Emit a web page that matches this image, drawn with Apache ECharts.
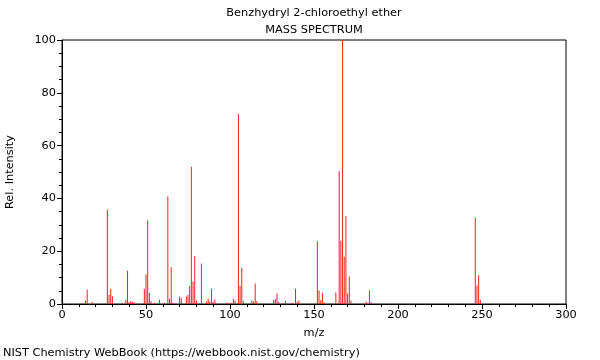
<!DOCTYPE html>
<html><head><meta charset="utf-8">
<script src="https://cdn.jsdelivr.net/npm/echarts@6/dist/echarts.min.js"></script>
<style>html,body{margin:0;padding:0;background:#fff}#c{width:600px;height:360px}</style>
</head><body><div id="c"></div>
<script>
const titleText = "Benzhydryl 2-chloroethyl ether";
const subTitle = "MASS SPECTRUM";
const footer = "NIST Chemistry WebBook (https://webbook.nist.gov/chemistry)";
const mz = [14,15,18,27,28,29,30,36,38,39,40,41,42,43,49,50,51,52,53,55,58,61,63,64,65,66,70,71,74,75,76,77,78,79,80,83,86,87,88,89,90,91,98,99,101,102,103,105,106,107,108,113,114,115,116,126,127,128,129,133,137,139,140,141,152,153,154,155,156,163,165,166,167,168,169,170,171,172,181,182,183,184,246,247,248,249];
const intensity = [1.3,5.5,0.8,35.8,3.5,5.8,2.9,0.4,1.6,12.6,0.8,1,0.8,0.6,5.8,11.2,31.6,4.3,1,0.5,1.6,0.5,40.7,2,13.9,0.5,2.8,2.3,2.8,3.5,6.8,52,8.5,18.2,1.3,15.3,0.9,2,0.9,5.8,0.8,1.6,0.5,0.5,0.5,2,1.3,72,6.9,13.6,1,1.3,0.9,7.8,1,1.5,1.9,4,0.8,1.1,0.5,5.8,0.8,1.3,23.8,5.1,1.4,4.3,0.6,4.4,50.3,24,100,17.9,33.3,4,10.4,1.3,0.9,0.4,5.2,0.7,32.8,7,10.9,1.6];
const xTicks = [0,50,100,150,200,250,300];
const yTicks = [0,20,40,60,80,100];

const font = "DejaVu Sans";
const fs = 11.33;
const chart = echarts.init(document.getElementById('c'), null, {renderer:'canvas'});
chart.setOption({
  animation:false,
  textStyle:{fontFamily:font},
  title:[
    {text:titleText, left:314, textAlign:'center', top:8, textStyle:{fontFamily:font,fontSize:fs,fontWeight:'normal',color:'#000'}, padding:0},
    {text:subTitle, left:314, textAlign:'center', top:25, textStyle:{fontFamily:font,fontSize:fs,fontWeight:'normal',color:'#000'}, padding:0},
    {text:footer, left:3, top:348, textStyle:{fontFamily:font,fontSize:fs,fontWeight:'normal',color:'#000'}, padding:0}
  ],
  grid:{left:62,right:34,top:40,bottom:56,show:true,borderColor:'#000',borderWidth:1,containLabel:false,outerBoundsMode:'none'},
  xAxis:{type:'value',min:xTicks[0],max:xTicks[xTicks.length-1],interval:50,
    name:'m/z',nameLocation:'middle',nameGap:24,nameTextStyle:{fontFamily:font,fontSize:fs,color:'#000'},
    axisLine:{lineStyle:{color:'#000'}},axisTick:{length:5,lineStyle:{color:'#000'}},
    minorTick:{show:true,splitNumber:5,length:3,lineStyle:{color:'#000'}},
    axisLabel:{fontFamily:font,fontSize:fs,color:'#000',margin:6},splitLine:{show:false}},
  yAxis:{type:'value',min:yTicks[0],max:yTicks[yTicks.length-1],interval:20,
    name:'Rel. Intensity',nameLocation:'middle',nameGap:46,nameRotate:90,nameTextStyle:{fontFamily:font,fontSize:fs,color:'#000'},
    axisLine:{show:true,lineStyle:{color:'#000'}},axisTick:{show:true,length:5,lineStyle:{color:'#000'}},
    minorTick:{show:true,splitNumber:4,length:3,lineStyle:{color:'#000'}},
    axisLabel:{fontFamily:font,fontSize:fs,color:'#000',margin:6},splitLine:{show:false}},
  series:[{type:'bar',barWidth:1,data:mz.map((m,i)=>[m,intensity[i]]),itemStyle:{color:'#f02020'},barGap:'-100%'}]
});
</script></body></html>
